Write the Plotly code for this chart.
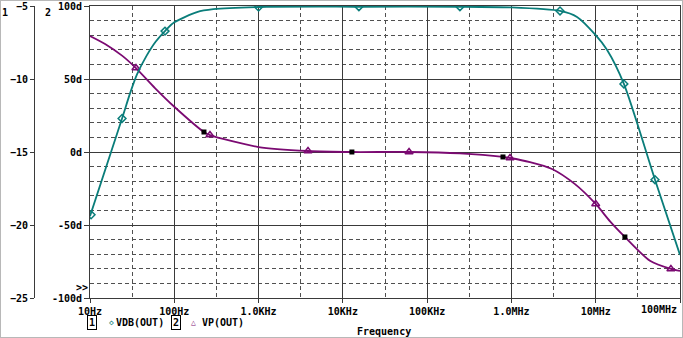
import plotly.graph_objects as go

# ---- data ----
freq_vdb = [10, 24, 30, 36, 47, 60, 78, 100, 186, 290, 1000, 15500, 245000,
            1000000, 3770000, 6000000, 10000000, 13600000, 21600000, 50500000, 100000000]
vdb = [-19.4, -12.7, -10.95, -9.7, -8.4, -7.45, -6.7, -6.12, -5.42, -5.22, -5.07,
       -5.05, -5.05, -5.10, -5.34, -5.75, -7.0, -8.0, -10.34, -16.9, -22.05]

freq_vp = [10, 15.1, 24, 35.1, 59, 100, 225, 265, 1000, 3860, 12800, 61000, 245000,
           794000, 962000, 1660000, 3030000, 5680000, 10000000, 14800000, 22200000,
           44000000, 78000000, 100000000]
vp = [79.5, 74.0, 66.0, 57.5, 43.8, 31.0, 13.7, 11.6, 3.4, 0.7, 0.0, 0.0, -1.0,
      -3.4, -4.1, -6.9, -11.6, -22.0, -35.6, -47.5, -58.2, -74.5, -80.1, -81.5]

mk_vdb_f = [10.3, 24, 77.6, 1000, 15500, 245000, 3770000, 21600000, 50500000]
mk_vdb_v = [-19.3, -12.7, -6.72, -5.07, -5.05, -5.05, -5.34, -10.34, -16.9]
mk_vp_f = [35.1, 265, 3860, 61000, 962000, 10000000, 78000000]
mk_vp_v = [57.5, 11.6, 0.7, 0.0, -4.1, -35.6, -80.1]
sq_f = [225, 12800, 794000, 22200000]
sq_v = [13.7, 0.0, -3.4, -58.2]

x_tickvals = [10, 100, 1e3, 1e4, 1e5, 1e6, 1e7, 1e8]
x_ticktext = ["10Hz", "100Hz", "1.0KHz", "10KHz", "100KHz", "1.0MHz", "10MHz", ""]
x_last_label = "100MHz"
x_minor = [10 ** (k + 0.5) for k in range(1, 8)]
y2_ticks = [-100, -50, 0, 50, 100]
y2_text = ["-100d", "-50d", "0d", "50d", "100d"]
y1_ticks = [-25, -20, -15, -10, -5]

TEAL = "#0a7d7a"
PURPLE = "#7b0a72"
FONT = dict(family="DejaVu Sans Mono", size=10, color="black", weight="bold")
W, H = 683, 338

def px(x):
    return x / W

def py(y):
    return 1 - y / H

fig = go.Figure()
fig.add_trace(go.Scatter(x=freq_vdb, y=vdb, mode="lines", yaxis="y2",
                         line=dict(color=TEAL, width=1.8, shape="spline", smoothing=0.7)))
fig.add_trace(go.Scatter(x=freq_vp, y=vp, mode="lines", yaxis="y",
                         line=dict(color=PURPLE, width=1.8, shape="spline", smoothing=0.7)))
fig.add_trace(go.Scatter(x=mk_vdb_f, y=mk_vdb_v, mode="markers", yaxis="y2",
                         marker=dict(symbol="diamond-open", size=6, color=TEAL, line=dict(width=1.5))))
fig.add_trace(go.Scatter(x=mk_vp_f, y=mk_vp_v, mode="markers", yaxis="y",
                         marker=dict(symbol="triangle-up-open", size=7, color=PURPLE, line=dict(width=1.5))))
fig.add_trace(go.Scatter(x=sq_f, y=sq_v, mode="markers", yaxis="y",
                         marker=dict(symbol="square", size=5, color="black")))

GRID = "#3a3a3a"
DASH = "#505050"
fig.update_layout(
    template="none",
    width=W, height=H, margin=dict(l=0, r=0, t=0, b=0, pad=0, autoexpand=False),
    paper_bgcolor="white", plot_bgcolor="white", showlegend=False,
    xaxis=dict(type="log", range=[1, 8], domain=[px(90), px(680)], automargin=False,
               tickmode="array", tickvals=x_tickvals, ticktext=x_ticktext,
               ticks="outside", ticklen=4, tickcolor=GRID, tickfont=FONT,
               showgrid=True, gridcolor=GRID, gridwidth=1,
               showline=True, linecolor=GRID, linewidth=1, mirror=True, zeroline=False,
               minor=dict(tickmode="array", tickvals=x_minor, showgrid=True, ticks="",
                          gridcolor=DASH, griddash="4px,3px", gridwidth=1)),
    yaxis=dict(range=[-100, 100], domain=[py(298), py(6)], automargin=False,
               tickmode="array", tickvals=y2_ticks, ticktext=y2_text,
               ticks="outside", ticklen=5, tickcolor=GRID, tickfont=FONT,
               showgrid=True, gridcolor=GRID, gridwidth=1,
               showline=True, linecolor=GRID, linewidth=1, mirror=True, zeroline=False,
               minor=dict(dtick=10, showgrid=True, gridcolor=DASH, ticks="",
                          griddash="4px,3px", gridwidth=1)),
    yaxis2=dict(range=[-25, -5], overlaying="y", anchor="free", position=px(34), side="left",
                automargin=False,
                tickmode="array", tickvals=y1_ticks, ticks="outside", ticklen=4,
                tickcolor=GRID, tickfont=FONT, showgrid=False, zeroline=False,
                showline=True, linecolor=GRID, linewidth=1),
)

ann = []
def text(x, y, s, color="black", size=10, xanchor="center", **kw):
    ann.append(dict(x=px(x), y=py(y), xref="paper", yref="paper", text=s, showarrow=False,
                    xanchor=xanchor, yanchor="middle",
                    font=dict(family="DejaVu Sans Mono", size=size, color=color, weight="bold"), **kw))

text(5, 13, "1")
text(48, 13, "2")
text(82, 287, "&gt;&gt;")
text(679, 309, x_last_label, xanchor="right")
text(92, 322, "1", bordercolor="black", borderwidth=1, borderpad=1)
text(111, 322, "◇", color=TEAL, size=8)
text(114, 322, "VDB(OUT)", xanchor="left")
text(175.5, 322, "2", bordercolor="black", borderwidth=1, borderpad=1)
text(193, 322, "△", color=PURPLE, size=8)
text(200, 322, "VP(OUT)", xanchor="left")
text(384, 331, "Frequency")
fig.update_layout(annotations=ann)

fig.add_shape(type="rect", xref="paper", yref="paper", x0=0, y0=0, x1=1, y1=1,
              line=dict(color="#b8b8b8", width=2))

fig.write_html("out.html")
